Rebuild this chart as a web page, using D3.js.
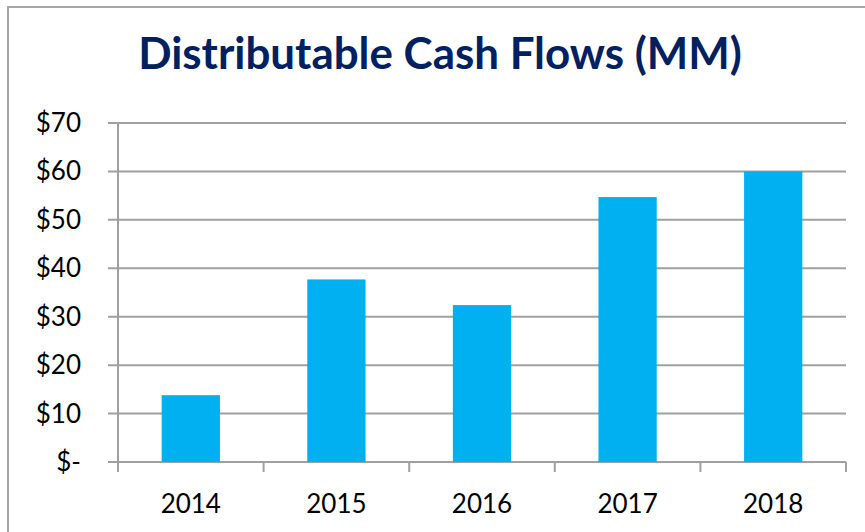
<!DOCTYPE html>
<html>
<head>
<meta charset="utf-8">
<script src="https://cdn.jsdelivr.net/npm/d3@7"></script>
<style>
  html, body { margin: 0; padding: 0; background: #ffffff; }
  svg { display: block; }
  .tick-label { font-family: Lato, "Open Sans", sans-serif; font-size: 26px; fill: #000; }
</style>
</head>
<body>
<svg id="chart" width="865" height="532"></svg>
<script>
// data
const years = ["2014", "2015", "2016", "2017", "2018"];
const cashFlows = [13.8, 37.7, 32.4, 54.7, 60.0];
const yTicks = [0, 10, 20, 30, 40, 50, 60, 70];
const yTickLabels = ["$-", "$10", "$20", "$30", "$40", "$50", "$60", "$70"];
const titleText = "Distributable Cash Flows (MM)";

const svg = d3.select("#chart");
const W = 865, H = 532;

// plot area
const plot = { left: 118, right: 846, top: 123, bottom: 462 };
const gridColor = "#A0A0A0";

// outer frame (right/bottom edges run off the picture)
svg.append("rect")
  .attr("x", 8).attr("y", 7)
  .attr("width", W + 20).attr("height", H + 20)
  .attr("fill", "#fff")
  .attr("stroke", "#A6A6A6")
  .attr("stroke-width", 2);

const x = d3.scaleBand()
  .domain(years)
  .range([plot.left, plot.right])
  .padding(0);

const y = d3.scaleLinear()
  .domain([0, 70])
  .range([plot.bottom, plot.top]);

// horizontal grid lines (with short left tick)
svg.append("g")
  .selectAll("line")
  .data(yTicks)
  .join("line")
  .attr("x1", plot.left - 10)
  .attr("x2", plot.right)
  .attr("y1", d => y(d))
  .attr("y2", d => y(d))
  .attr("stroke", gridColor)
  .attr("stroke-width", 2);

// y axis line
svg.append("line")
  .attr("x1", plot.left).attr("x2", plot.left)
  .attr("y1", y(70)).attr("y2", y(0))
  .attr("stroke", gridColor)
  .attr("stroke-width", 2);

// x axis tick marks at category boundaries
const boundaries = years.map(d => x(d)).concat([plot.right]);
svg.append("g")
  .selectAll("line")
  .data(boundaries)
  .join("line")
  .attr("x1", d => d).attr("x2", d => d)
  .attr("y1", y(0)).attr("y2", y(0) + 10)
  .attr("stroke", gridColor)
  .attr("stroke-width", 2);

// bars
const barW = x.bandwidth() * 0.4;
svg.append("g")
  .selectAll("rect")
  .data(years)
  .join("rect")
  .attr("x", (d) => x(d) + (x.bandwidth() - barW) / 2)
  .attr("y", (d, i) => y(cashFlows[i]))
  .attr("width", barW)
  .attr("height", (d, i) => y(0) - y(cashFlows[i]))
  .attr("fill", "#00B0F0");

// y tick labels
svg.append("g")
  .selectAll("text")
  .data(yTicks)
  .join("text")
  .attr("class", "tick-label")
  .attr("x", 81)
  .attr("y", d => y(d) + 9)
  .attr("text-anchor", "end")
  .text((d, i) => yTickLabels[i]);

// x tick labels
svg.append("g")
  .selectAll("text")
  .data(years)
  .join("text")
  .attr("class", "tick-label")
  .attr("x", d => x(d) + x.bandwidth() / 2)
  .attr("y", 513)
  .attr("text-anchor", "middle")
  .text(d => d);

// title, sized to span the same width as the reference
const title = svg.append("text")
  .attr("x", 440)
  .attr("y", 69)
  .attr("text-anchor", "middle")
  .style("font-family", "Lato, 'Open Sans', sans-serif")
  .style("font-weight", "bold")
  .style("font-size", "36px")
  .style("fill", "#002060")
  .text(titleText);
const tw = title.node().getComputedTextLength();
title.style("font-size", (36 * 604 / tw).toFixed(1) + "px");
</script>
</body>
</html>
